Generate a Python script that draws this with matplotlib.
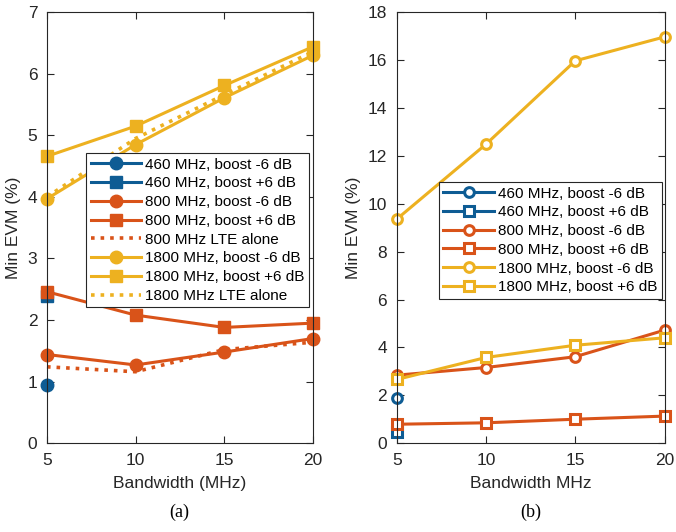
import matplotlib
matplotlib.use("Agg")
import matplotlib.pyplot as plt

plt.rcParams['font.family'] = ['Liberation Sans', 'DejaVu Sans']

bw = [5, 10, 15, 20]

# panel (a)
a_460_m6 = [0.95]
a_460_p6 = [2.39]
a_800_m6 = [1.44, 1.27, 1.48, 1.70]
a_800_p6 = [2.46, 2.08, 1.88, 1.95]
a_800_lte = [1.24, 1.16, 1.52, 1.64]
a_1800_m6 = [3.97, 4.85, 5.61, 6.30]
a_1800_p6 = [4.66, 5.15, 5.81, 6.44]
a_1800_lte = [4.00, 4.95, 5.66, 6.36]

# panel (b)
b_460_m6 = [1.89]
b_460_p6 = [0.47]
b_800_m6 = [2.84, 3.16, 3.61, 4.72]
b_800_p6 = [0.79, 0.85, 1.00, 1.13]
b_1800_m6 = [9.36, 12.49, 15.97, 16.97]
b_1800_p6 = [2.66, 3.58, 4.09, 4.40]

blue = '#0E5C94'
orange = '#D95319'
yellow = '#EDB120'
lw = 2.2

fig = plt.figure(figsize=(6.76, 5.32), dpi=100)
ax1 = fig.add_axes([0.0695, 0.167, 0.3935, 0.810])
ax2 = fig.add_axes([0.587, 0.167, 0.396, 0.810])

# (a) filled markers
ax1.plot(bw[:1], a_460_m6, '-o', color=blue, lw=lw, ms=9, label='460 MHz, boost -6 dB')
ax1.plot(bw[:1], a_460_p6, '-s', color=blue, lw=lw, ms=8.5, label='460 MHz, boost +6 dB')
ax1.plot(bw, a_800_m6, '-o', color=orange, lw=lw, ms=9, label='800 MHz, boost -6 dB')
ax1.plot(bw, a_800_p6, '-s', color=orange, lw=lw, ms=8.5, label='800 MHz, boost +6 dB')
ax1.plot(bw, a_800_lte, ':', color=orange, lw=2.6, label='800 MHz LTE alone')
ax1.plot(bw, a_1800_m6, '-o', color=yellow, lw=lw, ms=9, label='1800 MHz, boost -6 dB')
ax1.plot(bw, a_1800_p6, '-s', color=yellow, lw=lw, ms=8.5, label='1800 MHz, boost +6 dB')
ax1.plot(bw, a_1800_lte, ':', color=yellow, lw=2.6, label='1800 MHz LTE alone')
ax1.set_ylim(0, 7)
ax1.set_yticks(range(0, 8))

# (b) open markers
ob = dict(lw=lw, ms=7, mfc='white', mew=2.2)
ax2.plot(bw[:1], b_460_m6, '-o', color=blue, label='460 MHz, boost -6 dB', **ob)
ax2.plot(bw[:1], b_460_p6, '-s', color=blue, label='460 MHz, boost +6 dB', **ob)
ax2.plot(bw, b_800_m6, '-o', color=orange, label='800 MHz, boost -6 dB', **ob)
ax2.plot(bw, b_800_p6, '-s', color=orange, label='800 MHz, boost +6 dB', **ob)
ax2.plot(bw, b_1800_m6, '-o', color=yellow, label='1800 MHz, boost -6 dB', **ob)
ax2.plot(bw, b_1800_p6, '-s', color=yellow, label='1800 MHz, boost +6 dB', **ob)
ax2.set_ylim(0, 18)
ax2.set_yticks(range(0, 19, 2))

for ax in (ax1, ax2):
    ax.set_xlim(5, 20)
    ax.set_xticks(bw)
    ax.tick_params(direction='in', top=True, right=True, labelsize=12.5,
                   colors='#262626', length=5, width=0.8, pad=7)
    for s in ax.spines.values():
        s.set_color('#262626')
        s.set_linewidth(0.8)
    ax.set_ylabel('Min EVM (%)', fontsize=12.5, color='#262626', labelpad=5)
    for line in ax.lines:
        line.set_clip_on(False)

ax1.set_xlabel('Bandwidth (MHz)', fontsize=12.5, color='#262626', labelpad=6)
ax2.set_xlabel('Bandwidth MHz', fontsize=12.5, color='#262626', labelpad=6)

leg_kw = dict(fontsize=11, handlelength=3.3, handletextpad=0.25, borderpad=0.3,
              labelspacing=0.31, fancybox=False, framealpha=1, edgecolor='#262626',
              borderaxespad=0)
l1 = ax1.legend(loc='upper left', bbox_to_anchor=(0.147, 0.673), **leg_kw)
l2 = ax2.legend(loc='upper left', bbox_to_anchor=(0.157, 0.606), **leg_kw)
for l in (l1, l2):
    l.get_frame().set_linewidth(0.8)

fig.text(0.265, 0.028, '(a)', ha='center', family=['Liberation Serif'], fontsize=13)
fig.text(0.785, 0.028, '(b)', ha='center', family=['Liberation Serif'], fontsize=13)

fig.savefig('out.png', dpi=100)
